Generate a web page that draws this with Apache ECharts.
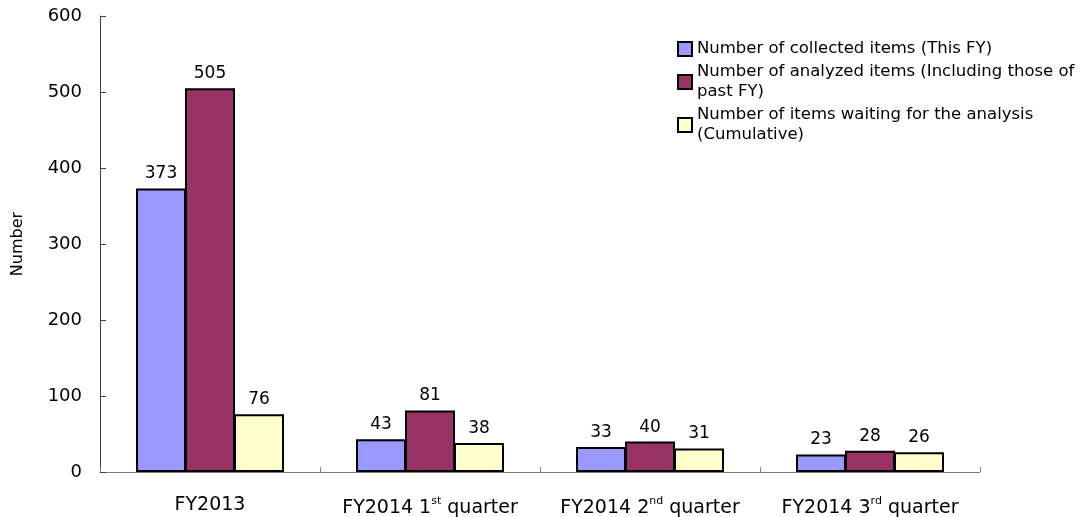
<!DOCTYPE html>
<html>
<head>
<meta charset="utf-8">
<title>Items</title>
<script src="https://cdn.jsdelivr.net/npm/echarts@6/dist/echarts.min.js"></script>
<style>
  html, body { margin: 0; padding: 0; background: #fff; }
  #chart { width: 1081px; height: 517px; }
</style>
</head>
<body>
<div id="chart"></div>
<script>
var categories = ['FY2013', 'FY2014 1st quarter', 'FY2014 2nd quarter', 'FY2014 3rd quarter'];
var seriesNames = [
    'Number of collected items (This FY)',
    'Number of analyzed items (Including those of past FY)',
    'Number of items waiting for the analysis (Cumulative)'
];
// legend text is wrapped like the original
var legendLabels = [
    'Number of collected items (This FY)',
    'Number of analyzed items (Including those of\npast FY)',
    'Number of items waiting for the analysis\n(Cumulative)'
];
var collected = [373, 43, 33, 23];
var analyzed = [505, 81, 40, 28];
var waiting = [76, 38, 31, 26];
var yTicks = [0, 100, 200, 300, 400, 500, 600];
var colors = ['#9999FF', '#993366', '#FFFFCC'];

var font = 'DejaVu Sans';

function makeSeries(idx, data) {
    return {
        name: seriesNames[idx],
        type: 'bar',
        data: data,
        barWidth: 50,
        barGap: '-2%',
        itemStyle: { color: colors[idx], borderColor: '#000', borderWidth: 2 },
        label: {
            show: true,
            position: 'top',
            distance: 6,
            color: '#000',
            fontFamily: font,
            fontSize: 17
        }
    };
}

var myChart = echarts.init(document.getElementById('chart'));
var option = {
    animation: false,
    backgroundColor: '#fff',
    grid: { left: 100, right: 101, top: 16, bottom: 45, containLabel: false, outerBoundsMode: 'none' },
    legend: {
        orient: 'vertical',
        left: 672,
        top: 34,
        itemWidth: 14,
        itemHeight: 14,
        itemGap: 3,
        icon: 'rect',
        data: seriesNames,
        formatter: function (name) {
            return legendLabels[seriesNames.indexOf(name)];
        },
        itemStyle: { borderColor: '#000', borderWidth: 2 },
        textStyle: { fontFamily: font, fontSize: 16.5, color: '#000', lineHeight: 20 }
    },
    xAxis: {
        type: 'category',
        data: categories,
        axisLine: { lineStyle: { color: '#808080', width: 1 } },
        axisTick: { show: true, inside: true, length: 5, lineStyle: { color: '#808080' } },
        axisLabel: {
            interval: 0,
            margin: 24,
            color: '#000',
            fontFamily: font,
            fontSize: 19,
            formatter: function (v) {
                return v.replace(/(\d)(st|nd|rd)/, '$1{sup|$2}');
            },
            rich: {
                sup: { fontFamily: font, fontSize: 11, color: '#000', padding: [0, 0, 14, 0] }
            }
        }
    },
    yAxis: {
        type: 'value',
        min: yTicks[0],
        max: yTicks[yTicks.length - 1],
        interval: 100,
        name: 'Number',
        nameLocation: 'middle',
        nameGap: 74,
        nameTextStyle: { fontFamily: font, fontSize: 16, color: '#000' },
        splitLine: { show: false },
        axisLine: { show: true, lineStyle: { color: '#404040', width: 1 } },
        axisTick: { show: true, inside: true, length: 6, lineStyle: { color: '#404040' } },
        axisLabel: { margin: 18, color: '#000', fontFamily: font, fontSize: 18 }
    },
    series: [
        makeSeries(0, collected),
        makeSeries(1, analyzed),
        makeSeries(2, waiting)
    ]
};
myChart.setOption(option);
</script>
</body>
</html>
